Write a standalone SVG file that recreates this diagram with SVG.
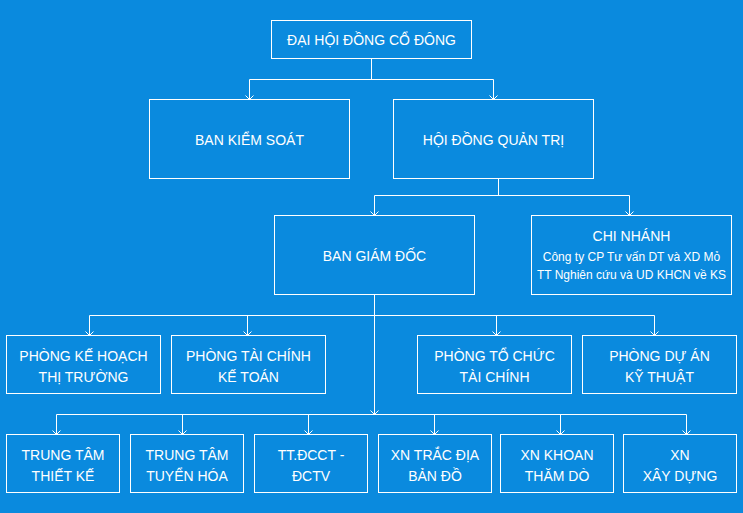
<svg xmlns="http://www.w3.org/2000/svg" width="743" height="513" viewBox="0 0 743 513">
<style>
.bx{fill:none;stroke:#fff;stroke-width:1}
.t{font-family:"Liberation Sans",Arial,sans-serif;font-size:14px;fill:#fff;text-anchor:middle}
.s{font-family:"Liberation Sans",Arial,sans-serif;font-size:12px;fill:#fff;text-anchor:middle}
.c{fill:none;stroke:#fff;stroke-width:1}
</style>
<defs>
<marker id="a" markerWidth="10" markerHeight="10" refX="5" refY="5" orient="auto" markerUnits="userSpaceOnUse" viewBox="0 0 10 10"><path d="M1,1 L5,5 L1,9" fill="none" stroke="#fff" stroke-width="1"/></marker>
</defs>
<rect width="743" height="513" fill="#0a8ade"/>
<g id="connectors">
<path class="c" d="M371.5 58.5 V79.5 M249.5 79.5 H493.5"/>
<path class="c" d="M249.5 79.5 V99.5" marker-end="url(#a)"/>
<path class="c" d="M493.5 79.5 V99.5" marker-end="url(#a)"/>
<path class="c" d="M498.5 178.5 V195.5 M374.5 195.5 H629.5"/>
<path class="c" d="M374.5 195.5 V215.5" marker-end="url(#a)"/>
<path class="c" d="M629.5 195.5 V215.5" marker-end="url(#a)"/>
<path class="c" d="M374.5 294.5 V414.5" marker-end="url(#a)"/>
<path class="c" d="M89.5 315.5 H654.5"/>
<path class="c" d="M89.5 315.5 V335.5" marker-end="url(#a)"/>
<path class="c" d="M247.5 315.5 V335.5" marker-end="url(#a)"/>
<path class="c" d="M496.5 315.5 V335.5" marker-end="url(#a)"/>
<path class="c" d="M654.5 315.5 V335.5" marker-end="url(#a)"/>
<path class="c" d="M56.5 414.5 H686.5"/>
<path class="c" d="M56.5 414.5 V434.5" marker-end="url(#a)"/>
<path class="c" d="M182.5 414.5 V434.5" marker-end="url(#a)"/>
<path class="c" d="M308.5 414.5 V434.5" marker-end="url(#a)"/>
<path class="c" d="M434.5 414.5 V434.5" marker-end="url(#a)"/>
<path class="c" d="M560.5 414.5 V434.5" marker-end="url(#a)"/>
<path class="c" d="M686.5 414.5 V434.5" marker-end="url(#a)"/>
</g>
<g id="dhcd"><rect class="bx" x="271.5" y="20.5" width="200" height="38"/><text class="t" x="371.5" y="44.5">ĐẠI HỘI ĐỒNG CỔ ĐÔNG</text></g>
<g id="bks"><rect class="bx" x="149.5" y="99.5" width="200" height="79"/><text class="t" x="249.5" y="145">BAN KIỂM SOÁT</text></g>
<g id="hdqt"><rect class="bx" x="393.5" y="99.5" width="200" height="79"/><text class="t" x="493.5" y="145">HỘI ĐỒNG QUẢN TRỊ</text></g>
<g id="bgd"><rect class="bx" x="274.5" y="215.5" width="200" height="79"/><text class="t" x="374.5" y="261">BAN GIÁM ĐỐC</text></g>
<g id="cn"><rect class="bx" x="531.5" y="215.5" width="200" height="79"/><text class="t" x="631.5" y="241">CHI NHÁNH</text><text class="s" x="631.5" y="261">Công ty CP Tư vấn DT và XD Mỏ</text><text class="s" x="631.5" y="278.5">TT Nghiên cứu và UD KHCN về KS</text></g>
<g id="p1"><rect class="bx" x="6.5" y="335.5" width="154" height="58"/><text class="t" x="83.5" y="360.7">PHÒNG KẾ HOẠCH</text><text class="t" x="83.5" y="381.7">THỊ TRƯỜNG</text></g>
<g id="p2"><rect class="bx" x="171.5" y="335.5" width="154" height="58"/><text class="t" x="248.5" y="360.7">PHÒNG TÀI CHÍNH</text><text class="t" x="248.5" y="381.7">KẾ TOÁN</text></g>
<g id="p3"><rect class="bx" x="417.5" y="335.5" width="154" height="58"/><text class="t" x="494.5" y="360.7">PHÒNG TỔ CHỨC</text><text class="t" x="494.5" y="381.7">TÀI CHÍNH</text></g>
<g id="p4"><rect class="bx" x="582.5" y="335.5" width="154" height="58"/><text class="t" x="659.5" y="360.7">PHÒNG DỰ ÁN</text><text class="t" x="659.5" y="381.7">KỸ THUẬT</text></g>
<g id="b1"><rect class="bx" x="6.5" y="434.5" width="113" height="58"/><text class="t" x="63" y="460">TRUNG TÂM</text><text class="t" x="63" y="480.7">THIẾT KẾ</text></g>
<g id="b2"><rect class="bx" x="130.5" y="434.5" width="113" height="58"/><text class="t" x="187" y="460">TRUNG TÂM</text><text class="t" x="187" y="480.7">TUYỂN HÓA</text></g>
<g id="b3"><rect class="bx" x="254.5" y="434.5" width="113" height="58"/><text class="t" x="311" y="460">TT.ĐCCT -</text><text class="t" x="311" y="480.7">ĐCTV</text></g>
<g id="b4"><rect class="bx" x="378.5" y="434.5" width="113" height="58"/><text class="t" x="435" y="460">XN TRẮC ĐỊA</text><text class="t" x="435" y="480.7">BẢN ĐỒ</text></g>
<g id="b5"><rect class="bx" x="500.5" y="434.5" width="113" height="58"/><text class="t" x="557" y="460">XN KHOAN</text><text class="t" x="557" y="480.7">THĂM DÒ</text></g>
<g id="b6"><rect class="bx" x="623.5" y="434.5" width="113" height="58"/><text class="t" x="680" y="460">XN</text><text class="t" x="680" y="480.7">XÂY DỰNG</text></g>
</svg>
